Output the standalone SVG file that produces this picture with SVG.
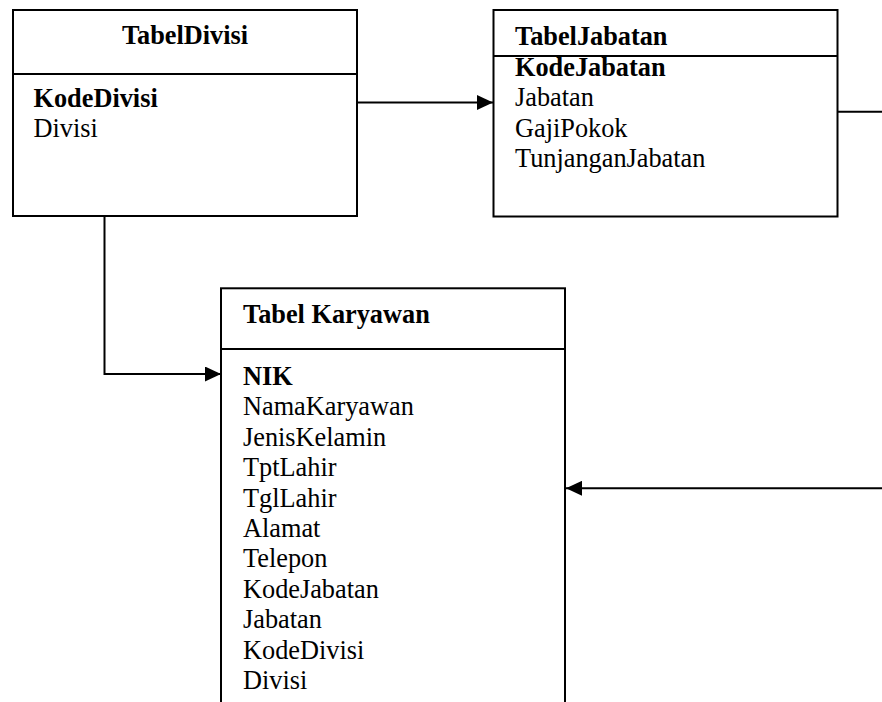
<svg xmlns="http://www.w3.org/2000/svg" width="882" height="702" viewBox="0 0 882 702">
<style>
.box{fill:#fff;stroke:#000;stroke-width:2}
.div{stroke:#000;stroke-width:2}
.t{font-family:"Liberation Serif","Times New Roman",serif;font-size:26.3px;fill:#000}
.b{font-weight:bold}
.con{fill:none;stroke:#000;stroke-width:2}
</style>
<defs>
<marker id="arr" viewBox="0 0 16 15" refX="16" refY="7.5" markerWidth="16" markerHeight="15" markerUnits="userSpaceOnUse" orient="auto">
<path d="M0,0 L16,7.5 L0,15 z" fill="#000"/>
</marker>
</defs>
<rect width="882" height="702" fill="#fff"/>
<g id="connectors">
<path class="con" d="M357,102.5 H493" marker-end="url(#arr)"/>
<path class="con" d="M838,111.7 H882"/>
<path class="con" d="M104.5,216 V374 H221" marker-end="url(#arr)"/>
<path class="con" d="M882,488.3 H566" marker-end="url(#arr)"/>
</g>
<g id="TabelDivisi">
<rect class="box" x="13" y="10" width="344" height="206"/>
<line class="div" x1="13" y1="74" x2="357" y2="74"/>
<text class="t b" x="185" y="44" text-anchor="middle">TabelDivisi</text>
<text class="t b" x="33.5" y="107">KodeDivisi</text>
<text class="t" x="33.5" y="136.7">Divisi</text>
</g>
<g id="TabelJabatan">
<rect class="box" x="493.5" y="10" width="344" height="206.5"/>
<line class="div" x1="493.5" y1="56" x2="837.5" y2="56"/>
<text class="t b" x="515" y="45">TabelJabatan</text>
<text class="t b" x="515" y="76">KodeJabatan</text>
<text class="t" x="515" y="106">Jabatan</text>
<text class="t" x="515" y="136.5">GajiPokok</text>
<text class="t" x="515" y="166.5">TunjanganJabatan</text>
</g>
<g id="TabelKaryawan">
<rect class="box" x="221" y="288.3" width="344" height="430"/>
<line class="div" x1="221" y1="349" x2="565" y2="349"/>
<text class="t b" x="243" y="323.3">Tabel Karyawan</text>
<text class="t b" x="243" y="385">NIK</text>
<text class="t" x="243" y="415.4">NamaKaryawan</text>
<text class="t" x="243" y="445.8">JenisKelamin</text>
<text class="t" x="243" y="476.2">TptLahir</text>
<text class="t" x="243" y="506.6">TglLahir</text>
<text class="t" x="243" y="537">Alamat</text>
<text class="t" x="243" y="567.4">Telepon</text>
<text class="t" x="243" y="597.8">KodeJabatan</text>
<text class="t" x="243" y="628.2">Jabatan</text>
<text class="t" x="243" y="658.6">KodeDivisi</text>
<text class="t" x="243" y="689">Divisi</text>
</g>
</svg>
